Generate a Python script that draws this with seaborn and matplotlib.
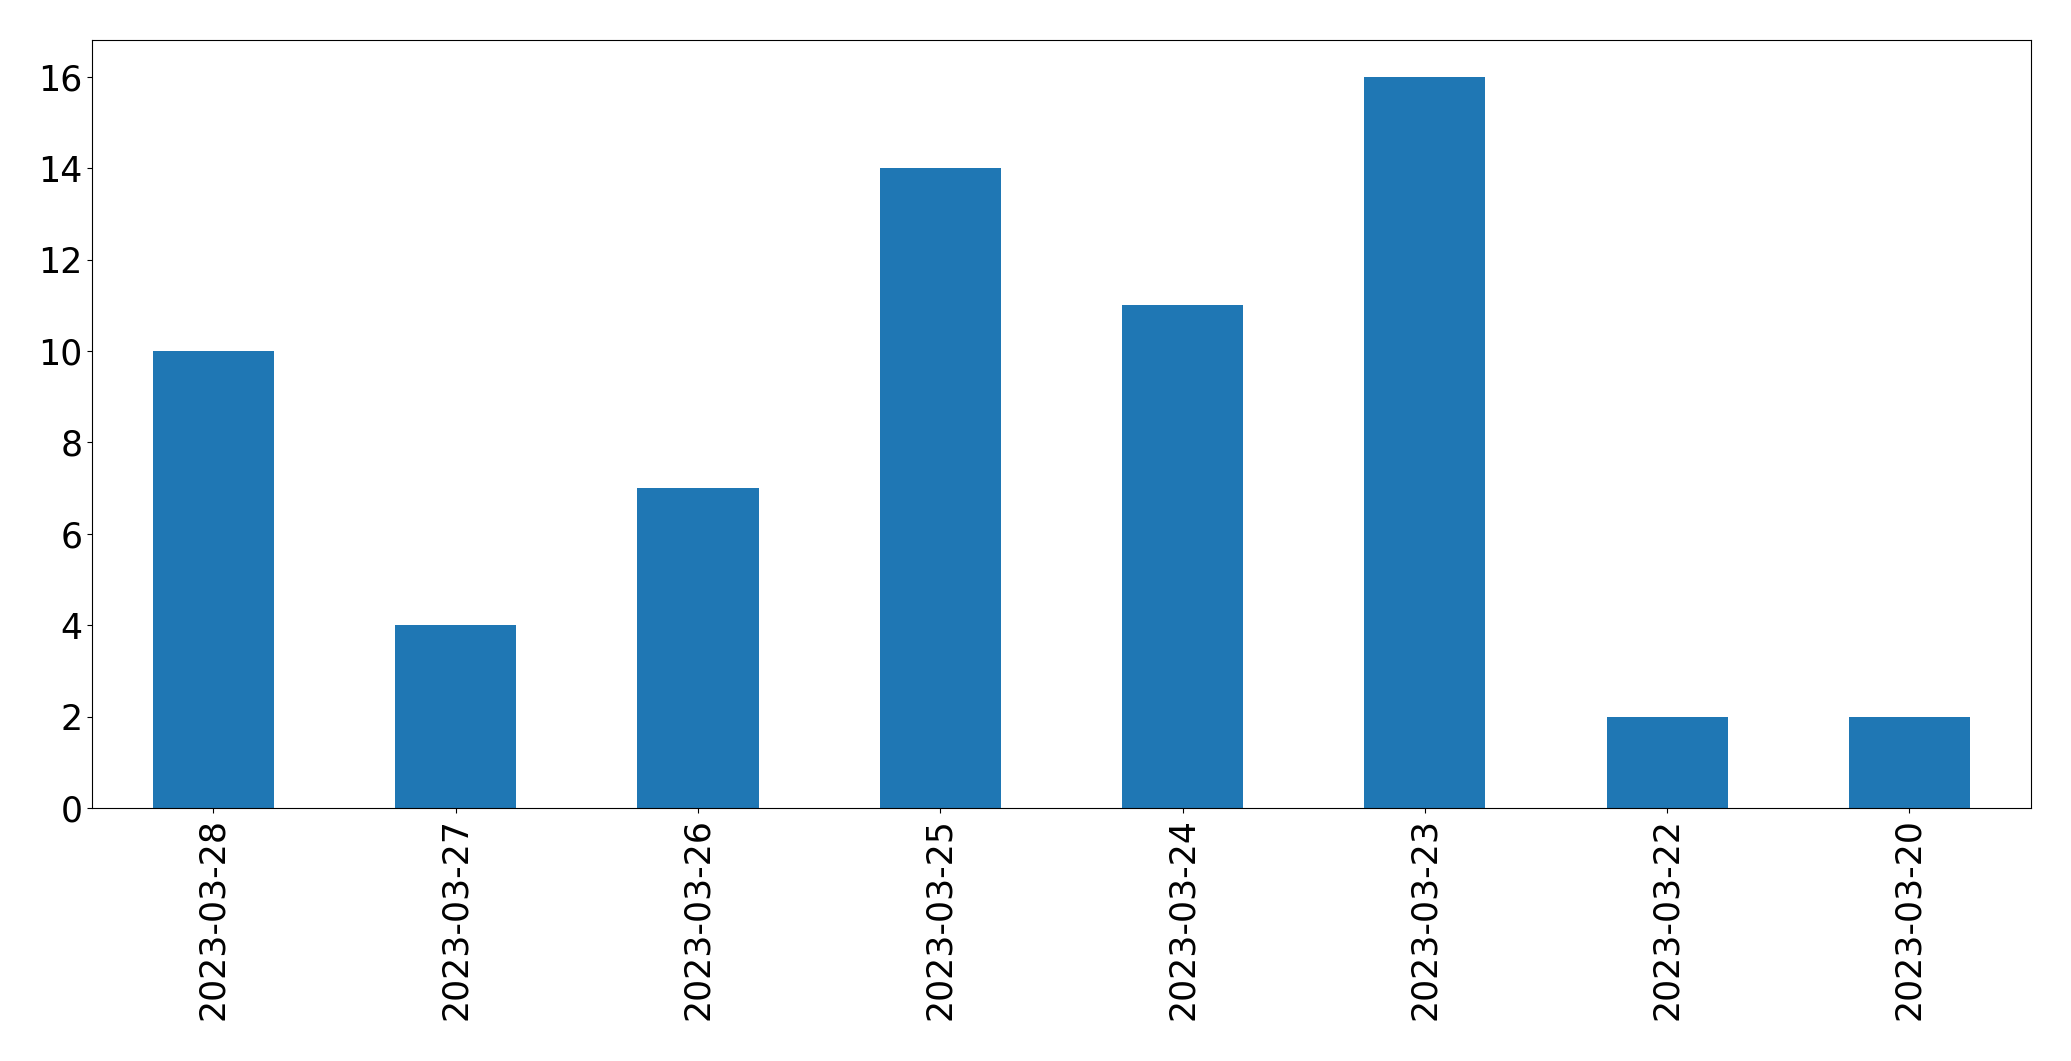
import matplotlib
matplotlib.use("Agg")
import matplotlib.pyplot as plt
import seaborn as sns
import pandas as pd

dates = ["2023-03-28", "2023-03-27", "2023-03-26", "2023-03-25",
         "2023-03-24", "2023-03-23", "2023-03-22", "2023-03-20"]
counts = [10, 4, 7, 14, 11, 16, 2, 2]

df = pd.DataFrame({"date": dates, "count": counts})

plt.rcParams["font.family"] = ["DejaVu Sans"]
fig, ax = plt.subplots(figsize=(20.71, 10.61), dpi=100)
sns.barplot(x="date", y="count", data=df, ax=ax, color="#1f77b4",
            saturation=1, width=0.5, order=dates, linewidth=0)
ax.set_xlim(-0.5, len(dates) - 0.5)
ax.set_ylim(0, 16.8)
ax.set_xlabel("")
ax.set_ylabel("")
ax.tick_params(axis="x", labelrotation=90, labelsize=25)
ax.tick_params(axis="y", labelsize=25)
fig.subplots_adjust(left=0.0445, right=0.9805, top=0.962, bottom=0.2385)
fig.savefig("out.png", dpi=100)
plt.close(fig)
